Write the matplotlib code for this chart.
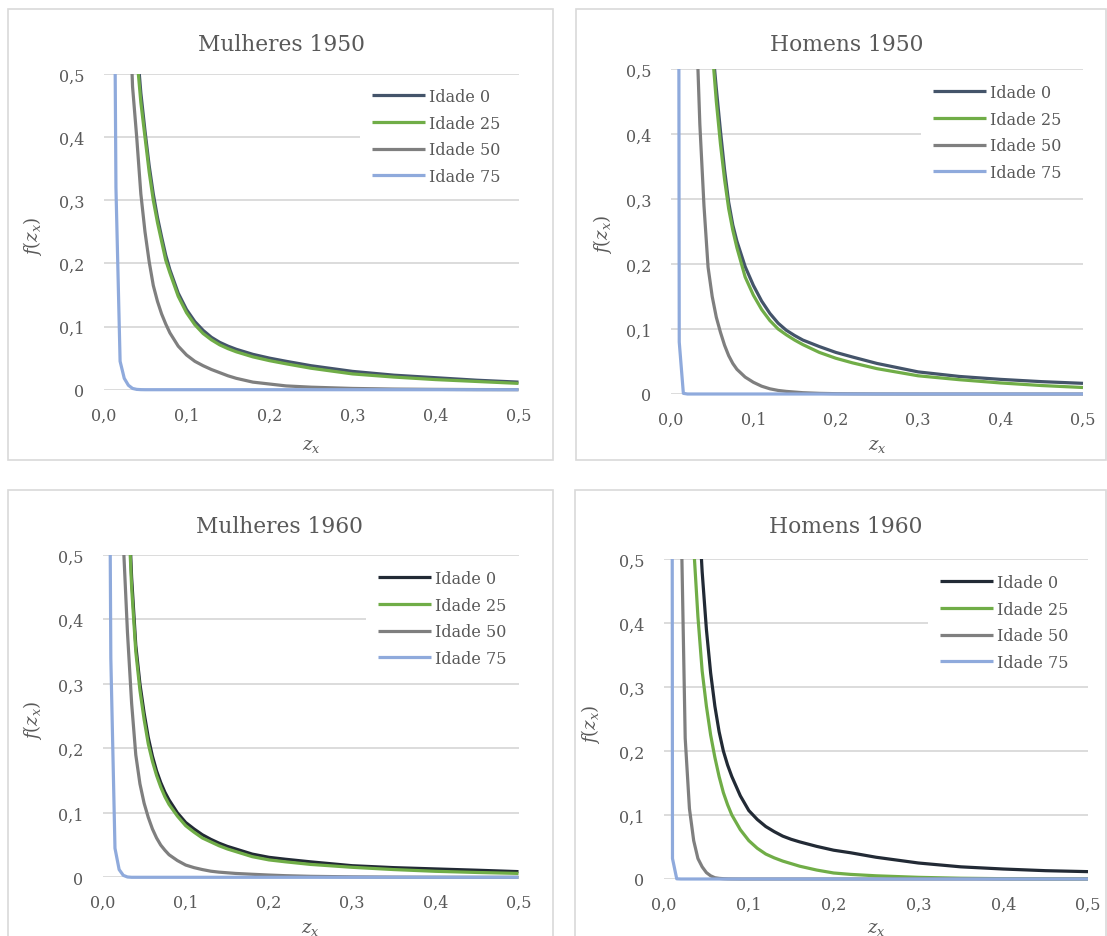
import matplotlib
matplotlib.use('Agg')
import matplotlib.pyplot as plt
from matplotlib.patches import Rectangle

# grade de z_x (comum a todas as séries)
z = [0.005, 0.01, 0.015, 0.02, 0.025, 0.03, 0.035, 0.04, 0.045, 0.05, 0.055,
     0.06, 0.065, 0.07, 0.075, 0.08, 0.09, 0.10, 0.11, 0.12, 0.13, 0.14,
     0.15, 0.16, 0.18, 0.20, 0.22, 0.25, 0.30, 0.35, 0.40, 0.45, 0.50]

# Mulheres 1950
m1950_idade0 = [30, 7.0, 3.0, 1.7, 1.12, 0.82, 0.66, 0.55, 0.47, 0.41, 0.355,
                0.31, 0.273, 0.242, 0.213, 0.19, 0.153, 0.127, 0.108, 0.094, 0.083, 0.075,
                0.069, 0.064, 0.056, 0.050, 0.045, 0.038, 0.029, 0.023, 0.019, 0.015, 0.012]
m1950_idade25 = [28, 6.5, 2.8, 1.6, 1.05, 0.78, 0.63, 0.53, 0.455, 0.40, 0.345,
                 0.30, 0.265, 0.235, 0.205, 0.185, 0.148, 0.122, 0.103, 0.089, 0.079, 0.071,
                 0.065, 0.06, 0.052, 0.046, 0.041, 0.034, 0.025, 0.020, 0.016, 0.013, 0.010]
m1950_idade50 = [20, 6.0, 2.8, 1.5, 0.95, 0.66, 0.48, 0.40, 0.31, 0.25, 0.203,
                 0.165, 0.14, 0.12, 0.104, 0.09, 0.069, 0.055, 0.045, 0.038, 0.032, 0.027,
                 0.022, 0.018, 0.012, 0.009, 0.006, 0.004, 0.002, 0.001, 0.0005, 0.0002, 0.0001]
m1950_idade75 = [3.0, 1.3, 0.32, 0.045, 0.018, 0.007, 0.002, 0.0005, 0.0001, 0, 0,
                 0, 0, 0, 0, 0, 0, 0, 0, 0, 0, 0,
                 0, 0, 0, 0, 0, 0, 0, 0, 0, 0, 0]

# Homens 1950
h1950_idade0 = [35, 9.0, 4.0, 2.3, 1.5, 1.1, 0.88, 0.73, 0.62, 0.54, 0.47,
                0.405, 0.345, 0.295, 0.26, 0.235, 0.196, 0.167, 0.143, 0.124, 0.109, 0.098,
                0.09, 0.083, 0.073, 0.064, 0.057, 0.047, 0.034, 0.027, 0.0225, 0.019, 0.0164]
h1950_idade25 = [30, 8.0, 3.6, 2.1, 1.4, 1.05, 0.85, 0.71, 0.61, 0.53, 0.45,
                 0.385, 0.33, 0.285, 0.252, 0.225, 0.18, 0.152, 0.13, 0.113, 0.10, 0.091,
                 0.083, 0.076, 0.064, 0.055, 0.048, 0.039, 0.028, 0.022, 0.017, 0.013, 0.010]
h1950_idade50 = [40, 10, 4.5, 2.0, 1.05, 0.6, 0.415, 0.29, 0.195, 0.15, 0.118,
                 0.095, 0.075, 0.059, 0.047, 0.038, 0.026, 0.018, 0.012, 0.008, 0.0055, 0.004,
                 0.003, 0.002, 0.001, 0.0005, 0.0003, 0.0001, 0, 0, 0, 0, 0]
h1950_idade75 = [5.0, 0.08, 0.001, 0, 0, 0, 0, 0, 0, 0, 0,
                 0, 0, 0, 0, 0, 0, 0, 0, 0, 0, 0,
                 0, 0, 0, 0, 0, 0, 0, 0, 0, 0, 0]

# Mulheres 1960
m1960_idade0 = [28, 5.5, 2.3, 1.3, 0.85, 0.62, 0.465, 0.36, 0.30, 0.255, 0.217,
                0.188, 0.165, 0.147, 0.132, 0.12, 0.10, 0.085, 0.075, 0.066, 0.059, 0.053,
                0.048, 0.044, 0.036, 0.031, 0.028, 0.024, 0.018, 0.015, 0.013, 0.011, 0.0088]
m1960_idade25 = [25, 5.0, 2.1, 1.2, 0.8, 0.6, 0.45, 0.35, 0.29, 0.245, 0.207,
                 0.18, 0.158, 0.14, 0.125, 0.113, 0.095, 0.08, 0.07, 0.061, 0.055, 0.049,
                 0.044, 0.04, 0.032, 0.027, 0.024, 0.02, 0.0155, 0.012, 0.0093, 0.0075, 0.006]
m1960_idade50 = [20, 6.0, 2.5, 0.85, 0.52, 0.38, 0.27, 0.19, 0.145, 0.115, 0.093,
                 0.075, 0.061, 0.05, 0.042, 0.035, 0.026, 0.019, 0.015, 0.012, 0.0095, 0.008,
                 0.007, 0.006, 0.0047, 0.0035, 0.0025, 0.0015, 0.0007, 0.0003, 0.0001, 0, 0]
m1960_idade75 = [1.5, 0.34, 0.045, 0.012, 0.003, 0.0005, 0, 0, 0, 0, 0,
                 0, 0, 0, 0, 0, 0, 0, 0, 0, 0, 0,
                 0, 0, 0, 0, 0, 0, 0, 0, 0, 0, 0]

# Homens 1960
h1960_idade0 = [40, 10, 4.5, 2.5, 1.6, 1.1, 0.8, 0.6, 0.48, 0.39, 0.322,
                0.27, 0.23, 0.2, 0.178, 0.16, 0.13, 0.107, 0.093, 0.082, 0.074, 0.067,
                0.062, 0.058, 0.051, 0.045, 0.041, 0.034, 0.025, 0.019, 0.0156, 0.013, 0.0115]
h1960_idade25 = [20, 5.0, 2.2, 1.3, 0.9, 0.68, 0.52, 0.41, 0.325, 0.27, 0.225,
                 0.19, 0.16, 0.135, 0.116, 0.10, 0.077, 0.06, 0.048, 0.039, 0.033, 0.028,
                 0.024, 0.02, 0.014, 0.0094, 0.0072, 0.005, 0.0026, 0.0012, 0.0005, 0.0002, 0.0001]
h1960_idade50 = [50, 12, 3.0, 0.58, 0.22, 0.11, 0.06, 0.032, 0.019, 0.01, 0.005,
                 0.002, 0.001, 0.0005, 0.0002, 0.0001, 0, 0, 0, 0, 0, 0,
                 0, 0, 0, 0, 0, 0, 0, 0, 0, 0, 0]
h1960_idade75 = [8.0, 0.032, 0.0003, 0, 0, 0, 0, 0, 0, 0, 0,
                 0, 0, 0, 0, 0, 0, 0, 0, 0, 0, 0,
                 0, 0, 0, 0, 0, 0, 0, 0, 0, 0, 0]

labels = ['Idade 0', 'Idade 25', 'Idade 50', 'Idade 75']
x_ticks = [0.0, 0.1, 0.2, 0.3, 0.4, 0.5]
x_ticklabels = ['0,0', '0,1', '0,2', '0,3', '0,4', '0,5']
y_ticks = [0.0, 0.1, 0.2, 0.3, 0.4, 0.5]
y_ticklabels = ['0', '0,1', '0,2', '0,3', '0,4', '0,5']

W, H = 1107, 937
TXT = '#595959'
GRID = '#D9D9D9'

plt.rcParams['font.family'] = 'DejaVu Serif'
plt.rcParams['mathtext.fontset'] = 'dejavuserif'

fig = plt.figure(figsize=(W / 100, H / 100), dpi=100)
fig.patch.set_facecolor('white')

# (titulo, series, cor idade 0, borda, area do grafico, legenda x0/y0/x1, titulo, ylabel, xlabel) em pixels
paineis = [
    ('Mulheres 1950', [m1950_idade0, m1950_idade25, m1950_idade50, m1950_idade75], '#44546A',
     (8, 10, 553, 461), (103.5, 75, 518.5, 390.7), (360, 77, 532), (281, 45), (32, 236), (311, 446)),
    ('Homens 1950', [h1950_idade0, h1950_idade25, h1950_idade50, h1950_idade75], '#44546A',
     (576, 10, 1106, 461), (671, 70, 1083, 395), (921, 73, 1097), (847, 45), (602, 234), (877, 446)),
    ('Mulheres 1960', [m1960_idade0, m1960_idade25, m1960_idade50, m1960_idade75], '#222A35',
     (8, 491, 553, 945), (102.5, 556, 518.5, 878.3), (366, 559, 532), (280, 527), (32, 720), (310, 929)),
    ('Homens 1960', [h1960_idade0, h1960_idade25, h1960_idade50, h1960_idade75], '#222A35',
     (575, 491, 1106, 945), (664, 560, 1088, 880), (928, 563, 1100), (846, 527), (590, 724), (876, 929)),
]

for titulo, series, cor0, borda, area, leg, tpos, ypos, xpos in paineis:
    bl, bt, br, bb = borda
    fig.patches.append(Rectangle((bl / W, 1 - bb / H), (br - bl) / W, (bb - bt) / H,
                                 transform=fig.transFigure, facecolor='none',
                                 edgecolor=GRID, linewidth=1.2, zorder=0))
    l, t, r, b = area
    ax = fig.add_axes([l / W, 1 - b / H, (r - l) / W, (b - t) / H])
    ax.set_facecolor('none')
    cores = [cor0, '#70AD47', '#7F7F7F', '#8FAADC']
    clip = Rectangle((-0.05, -0.05), 1.1, 1.05, transform=ax.transAxes, visible=False)
    ax.add_patch(clip)
    for ys, cor, lab in zip(series, cores, labels):
        linha, = ax.plot(z, ys, color=cor, lw=2.3, label=lab, solid_capstyle='butt',
                         solid_joinstyle='round', zorder=3)
        linha.set_clip_path(clip)
    ax.set_xlim(0, 0.5)
    ax.set_ylim(0, 0.5)
    ax.set_xticks(x_ticks)
    ax.set_xticklabels(x_ticklabels)
    ax.set_yticks(y_ticks)
    ax.set_yticklabels(y_ticklabels)
    ax.tick_params(length=0, labelsize=11.5, labelcolor=TXT)
    ax.tick_params(axis='y', pad=14)
    ax.tick_params(axis='x', pad=12)
    ax.grid(axis='y', color=GRID, lw=1.3)
    ax.set_axisbelow(True)
    for s in ax.spines.values():
        s.set_visible(False)

    lx0, ly0, lx1 = leg
    lg = ax.legend(loc='upper left', bbox_to_anchor=(lx0 / W, 1 - (ly0 + 120) / H, (lx1 - lx0) / W, 120 / H),
                   bbox_transform=fig.transFigure, mode='expand', frameon=True, fontsize=11.5,
                   handlelength=3.3, handletextpad=0.3, labelspacing=0.6,
                   borderpad=0.75, borderaxespad=0)
    lg.get_frame().set_facecolor('white')
    lg.get_frame().set_edgecolor('none')
    lg.get_frame().set_alpha(1)
    lg.get_frame().set_boxstyle('square', pad=0)
    lg.set_zorder(5)
    for txt in lg.get_texts():
        txt.set_color(TXT)

    fig.text(tpos[0] / W, 1 - tpos[1] / H, titulo, ha='center', va='center',
             fontsize=15.7, color=TXT)
    fig.text(ypos[0] / W, 1 - ypos[1] / H, '$f(z_x)$', ha='center', va='center',
             rotation=90, fontsize=13, color=TXT)
    fig.text(xpos[0] / W, 1 - xpos[1] / H, '$z_x$', ha='center', va='center',
             fontsize=13, color=TXT)

fig.savefig('out.png', dpi=100, facecolor='white')
